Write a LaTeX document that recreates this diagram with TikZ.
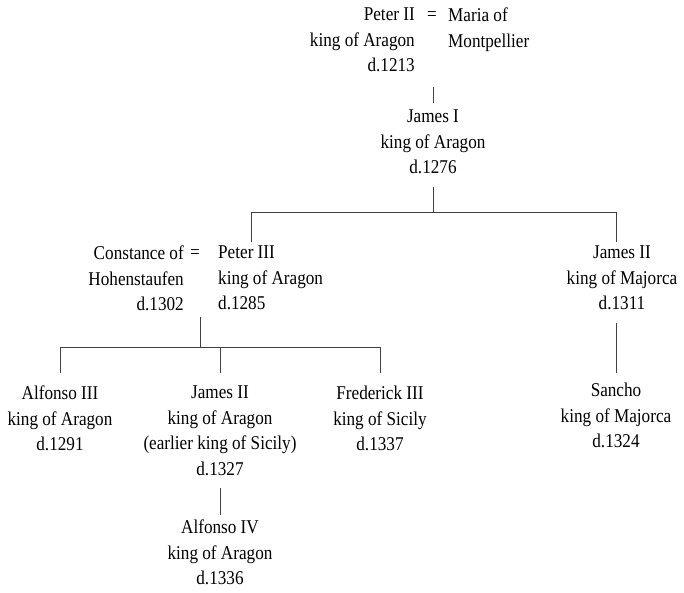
\documentclass[tikz,border=0pt]{standalone}
\usepackage{fontspec}
\setmainfont{Liberation Serif}[FakeStretch=0.88]

\tikzset{
  person/.style={inner sep=0pt, font=\fontsize{19.5}{25.5}\selectfont, text=black},
  tie/.style={draw=black!75, line width=0.9pt},
}

\begin{document}
\begin{tikzpicture}[x=1pt,y=-1pt]
\useasboundingbox (0,0) rectangle (684,593);
\draw
(415,8) node[person, anchor=north east, align=right](peterII){Peter II\\king of Aragon\\d.1213}
(432,16) node[person](wedA){=}
(448,8) node[person, anchor=north west, align=left](maria){Maria of\\Montpellier}
(433,110) node[person, anchor=north, align=center](jamesI){James I\\king of Aragon\\d.1276}
(184,246) node[person, anchor=north east, align=right](constance){Constance of\\Hohenstaufen\\d.1302}
(195,254) node[person](wedB){=}
(218,246) node[person, anchor=north west, align=left](peterIII){Peter III\\king of Aragon\\d.1285}
(622,246) node[person, anchor=north, align=center](jamesIIm){James II\\king of Majorca\\d.1311}
(60,386) node[person, anchor=north, align=center](alfonsoIII){Alfonso III\\king of Aragon\\d.1291}
(220,386) node[person, anchor=north, align=center](jamesIIa){James II\\king of Aragon\\(earlier king of Sicily)\\d.1327}
(380,386) node[person, anchor=north, align=center](frederick){Frederick III\\king of Sicily\\d.1337}
(220,520) node[person, anchor=north, align=center](alfonsoIV){Alfonso IV\\king of Aragon\\d.1336}
(616,383) node[person, anchor=north, align=center](sancho){Sancho\\king of Majorca\\d.1324};

\coordinate (forkL) at (251,212);
\coordinate (forkR) at (616,212);
\coordinate (kids) at (200,347);

\draw[tie] (jamesI |- 0,87) -- (jamesI |- 0,103);
\draw[tie] (jamesI |- 0,187) -- (jamesI |- forkL);
\draw[tie] (forkL |- 0,242) -- (forkL) -- (forkR) -- (forkR |- 0,242);
\draw[tie] (kids |- 0,317) -- (kids);
\draw[tie] (alfonsoIII |- 0,373) |- (frederick |- kids) -- (frederick |- 0,373);
\draw[tie] (jamesIIa |- kids) -- (jamesIIa |- 0,373);
\draw[tie] (jamesIIa |- 0,488) -- (alfonsoIV |- 0,515);
\draw[tie] (sancho |- 0,323) -- (sancho |- 0,373);
\end{tikzpicture}
\end{document}
